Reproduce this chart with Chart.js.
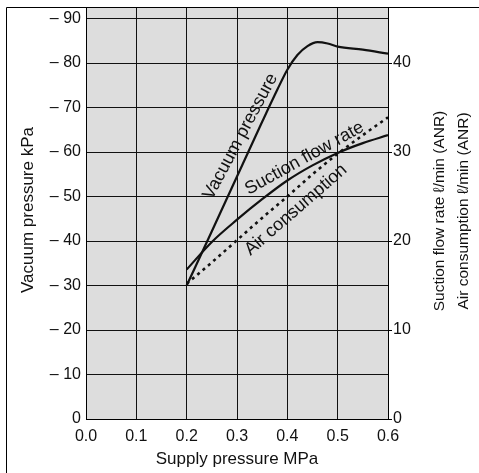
<!DOCTYPE html>
<html>
<head>
<meta charset="utf-8">
<script src="https://cdn.jsdelivr.net/npm/chart.js@4.4.1/dist/chart.umd.min.js"></script>
<style>
html,body{margin:0;padding:0;background:#fff;}
canvas{display:block;}
</style>
</head>
<body>
<canvas id="c" width="479" height="473"></canvas>
<script>
// Supply pressure (MPa)
const vacuumX = [0.2, 0.25, 0.3, 0.35, 0.38, 0.4, 0.42, 0.44, 0.46, 0.48, 0.5, 0.55, 0.6];
// Vacuum pressure (kPa)
const vacuumY = [-30, -42.2, -54.5, -66.8, -74, -78.5, -81.8, -83.8, -84.7, -84.4, -83.7, -83, -82.1];
const flowX = [0.2, 0.25, 0.3, 0.35, 0.4, 0.45, 0.5, 0.55, 0.6];
// Suction flow rate (l/min ANR)
const suctionY = [16.8, 19.9, 22.4, 24.7, 26.8, 28.5, 29.9, 31.0, 31.9];
// Air consumption (l/min ANR)
const airY = [15.2, 17.6, 20.1, 22.6, 25.0, 27.5, 29.8, 31.9, 33.9];

const xTicks = [0, 0.1, 0.2, 0.3, 0.4, 0.5, 0.6];
const leftTicks = [0, -10, -20, -30, -40, -50, -60, -70, -80, -90];
const rightTicks = [0, 10, 20, 30, 40];

const xTitle = 'Supply pressure MPa';
const leftTitle = 'Vacuum pressure kPa';
const rightTitle1 = 'Suction flow rate ℓ/min (ANR)';
const rightTitle2 = 'Air consumption ℓ/min (ANR)';
const curveLabels = ['Vacuum pressure', 'Suction flow rate', 'Air consumption'];

const FONT = '"Liberation Sans", Arial, Helvetica, sans-serif';
const INK = '#111';

const pts = (xs, ys) => xs.map((x, i) => ({x, y: ys[i]}));
const noPad = s => { s.paddingTop = 0; s.paddingBottom = 0; s.paddingLeft = 0; s.paddingRight = 0; };

const decor = {
  id: 'decor',
  beforeDraw(chart) {
    const {ctx, chartArea: a} = chart;
    ctx.save();
    ctx.fillStyle = '#dddddd';
    ctx.fillRect(a.left, a.top, a.right - a.left, a.bottom - a.top);
    ctx.restore();
  },
  afterDraw(chart) {
    const {ctx, chartArea: a, scales} = chart;
    ctx.save();
    // frame lines
    ctx.strokeStyle = '#000';
    ctx.lineWidth = 1;
    ctx.beginPath();
    ctx.moveTo(6.5, 473);
    ctx.lineTo(6.5, 7.5);
    ctx.lineTo(479, 7.5);
    ctx.stroke();
    // plot border
    ctx.strokeRect(Math.round(a.left) + 0.5, Math.round(a.top) + 0.5, Math.round(a.right - a.left), Math.round(a.bottom - a.top));

    ctx.fillStyle = INK;
    // axis titles
    ctx.font = '17px ' + FONT;
    ctx.textAlign = 'center';
    ctx.textBaseline = 'middle';
    ctx.fillText(xTitle, (a.left + a.right) / 2, 459);
    ctx.save();
    ctx.translate(28, 210);
    ctx.rotate(-Math.PI / 2);
    ctx.fillText(leftTitle, 0, 0);
    ctx.restore();
    ctx.font = '15.5px ' + FONT;
    ctx.save();
    ctx.translate(440, 211);
    ctx.rotate(-Math.PI / 2);
    ctx.fillText(rightTitle1, 0, 0);
    ctx.restore();
    ctx.save();
    ctx.translate(464, 211);
    ctx.rotate(-Math.PI / 2);
    ctx.fillText(rightTitle2, 0, 0);
    ctx.restore();

    // curve labels
    const xs = scales.x, yl = scales.y, yr = scales.y2;
    ctx.font = '18px ' + FONT;
    const lab = (text, px, py, deg) => {
      ctx.save();
      ctx.translate(px, py);
      ctx.rotate(-deg * Math.PI / 180);
      ctx.fillText(text, 0, 0);
      ctx.restore();
    };
    lab(curveLabels[0], xs.getPixelForValue(0.307), yl.getPixelForValue(-63.5), 62);
    lab(curveLabels[1], xs.getPixelForValue(0.434), yr.getPixelForValue(29.3), 29);
    lab(curveLabels[2], xs.getPixelForValue(0.417), yr.getPixelForValue(23.5), 41);
    ctx.restore();
  }
};

new Chart(document.getElementById('c'), {
  type: 'line',
  data: {
    datasets: [
      {
        label: curveLabels[0], data: pts(vacuumX, vacuumY), yAxisID: 'y',
        borderColor: INK, borderWidth: 2.2, pointRadius: 0, fill: false,
        cubicInterpolationMode: 'monotone'
      },
      {
        label: curveLabels[1], data: pts(flowX, suctionY), yAxisID: 'y2',
        borderColor: INK, borderWidth: 2.2, pointRadius: 0, fill: false,
        cubicInterpolationMode: 'monotone'
      },
      {
        label: curveLabels[2], data: pts(flowX, airY), yAxisID: 'y2',
        borderColor: INK, borderWidth: 2.6, borderDash: [3, 4], pointRadius: 0, fill: false,
        cubicInterpolationMode: 'monotone'
      }
    ]
  },
  options: {
    responsive: false,
    devicePixelRatio: 1,
    animation: false,
    layout: {padding: {top: 7, left: 0, right: 0, bottom: 0}},
    plugins: {legend: {display: false}, tooltip: {enabled: false}},
    scales: {
      x: {
        type: 'linear', min: 0, max: 0.6,
        afterBuildTicks: s => { s.ticks = xTicks.map(v => ({value: v})); },
        afterFit: s => { s.height = 54; noPad(s); },
        ticks: {
          callback: v => Number(v).toFixed(1),
          font: {family: FONT, size: 16}, color: INK, padding: 8, maxRotation: 0, autoSkip: false
        },
        grid: {color: '#111', lineWidth: 1, drawTicks: false},
        border: {color: '#000'}
      },
      y: {
        type: 'linear', position: 'left', reverse: true, min: -92.6, max: 0,
        afterBuildTicks: s => { s.ticks = leftTicks.map(v => ({value: v})); },
        afterFit: s => { s.width = 86; noPad(s); },
        ticks: {
          callback: v => v === 0 ? '0' : '– ' + Math.abs(v),
          font: {family: FONT, size: 16}, color: INK, padding: 5, autoSkip: false
        },
        grid: {color: '#111', lineWidth: 1, drawTicks: false},
        border: {color: '#000'}
      },
      y2: {
        type: 'linear', position: 'right', min: 0, max: 46.3,
        afterBuildTicks: s => { s.ticks = rightTicks.map(v => ({value: v})); },
        afterFit: s => { s.width = 91; noPad(s); },
        ticks: {
          callback: v => String(v),
          font: {family: FONT, size: 16}, color: INK, padding: 1, autoSkip: false
        },
        grid: {drawOnChartArea: false, color: '#000', tickLength: 4},
        border: {color: '#000'}
      }
    }
  },
  plugins: [decor]
});
</script>
</body>
</html>
